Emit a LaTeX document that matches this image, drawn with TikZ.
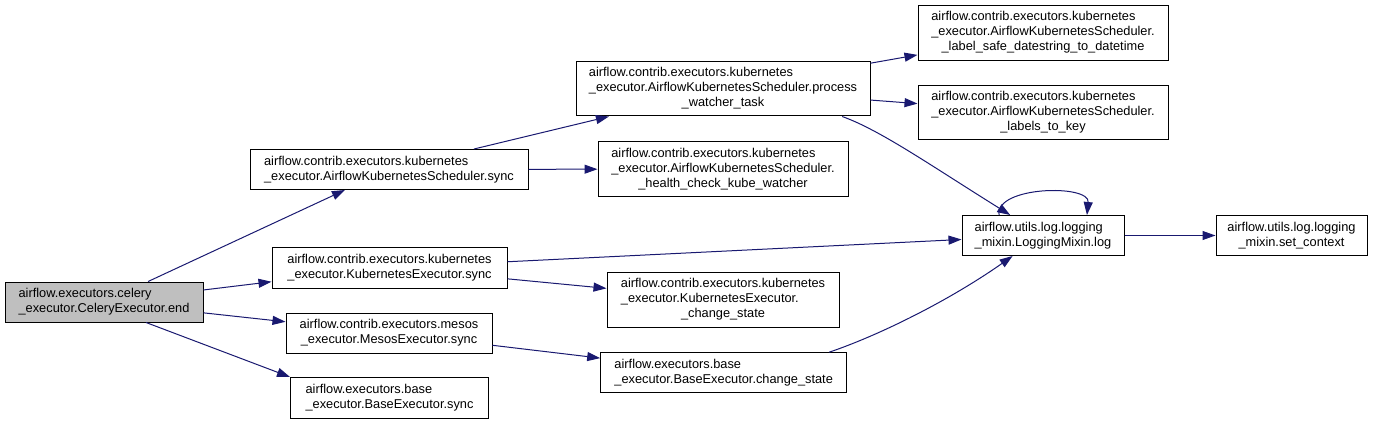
\documentclass[tikz,border=0pt]{standalone}
\usepackage{fontspec}
\setmainfont{Liberation Sans}
\usepackage{tikz}
\usetikzlibrary{arrows.meta}
\definecolor{edgeblue}{HTML}{191970}
\definecolor{rootgray}{HTML}{BFBFBF}
\newcommand{\fnlbl}[2]{\begin{tabular}{@{}l@{}}#1\\\multicolumn{1}{@{}c@{}}{#2}\end{tabular}}
\tikzstyle{funcnode} = [draw=black, rectangle, fill=white, line width=1pt, inner sep=0pt, font=\fontsize{12.8pt}{15pt}\selectfont]
\tikzstyle{rootnode} = [funcnode, fill=rootgray]
\tikzstyle{arrw} = [line width=1pt, color=edgeblue, -{Triangle[length=13pt, width=9pt]}]

\begin{document}
\begin{tikzpicture}[x=1pt, y=-1pt]
    \useasboundingbox (0,0) rectangle (1373,425);

    \node (root) [rootnode, minimum width=198, minimum height=40] at (104,302) {\fnlbl{airflow.executors.celery}{\_executor.CeleryExecutor.end}};
    \node (aks) [funcnode, minimum width=278, minimum height=40] at (389,169.5) {\fnlbl{airflow.contrib.executors.kubernetes}{\_executor.AirflowKubernetesScheduler.sync}};
    \node (kesync) [funcnode, minimum width=235, minimum height=41] at (389.5,267.5) {\fnlbl{airflow.contrib.executors.kubernetes}{\_executor.KubernetesExecutor.sync}};
    \node (mesos) [funcnode, minimum width=206, minimum height=40] at (389,333) {\fnlbl{airflow.contrib.executors.mesos}{\_executor.MesosExecutor.sync}};
    \node (besync) [funcnode, minimum width=198, minimum height=41] at (389.5,398) {\fnlbl{airflow.executors.base}{\_executor.BaseExecutor.sync}};
    \node (proc) [funcnode, minimum width=294, minimum height=54] at (723,89) {\fnlbl{airflow.contrib.executors.kubernetes\\\_executor.AirflowKubernetesScheduler.process}{\_watcher\_task}};
    \node (health) [funcnode, minimum width=250, minimum height=55] at (723,169) {\fnlbl{airflow.contrib.executors.kubernetes\\\_executor.AirflowKubernetesScheduler.}{\_health\_check\_kube\_watcher}};
    \node (kechg) [funcnode, minimum width=232, minimum height=55] at (723,299.5) {\fnlbl{airflow.contrib.executors.kubernetes\\\_executor.KubernetesExecutor.}{\_change\_state}};
    \node (bechg) [funcnode, minimum width=246, minimum height=40] at (723.7,372.7) {\fnlbl{airflow.executors.base}{\_executor.BaseExecutor.change\_state}};
    \node (lsafe) [funcnode, minimum width=250, minimum height=55] at (1043,33) {\fnlbl{airflow.contrib.executors.kubernetes\\\_executor.AirflowKubernetesScheduler.}{\_label\_safe\_datestring\_to\_datetime}};
    \node (l2key) [funcnode, minimum width=250, minimum height=54] at (1043,113) {\fnlbl{airflow.contrib.executors.kubernetes\\\_executor.AirflowKubernetesScheduler.}{\_labels\_to\_key}};
    \node (log) [funcnode, minimum width=162, minimum height=40] at (1043,235.5) {\fnlbl{airflow.utils.log.logging}{\_mixin.LoggingMixin.log}};
    \node (setctx) [funcnode, minimum width=151, minimum height=40] at (1291.5,235.5) {\fnlbl{airflow.utils.log.logging}{\_mixin.set\_context}};

    \draw [arrw] (root) -- (aks);
    \draw [arrw] (root) -- (kesync);
    \draw [arrw] (root) -- (mesos);
    \draw [arrw] (root.-26) -- (besync.north west);
    \draw [arrw] (aks) -- (proc);
    \draw [arrw] (aks) -- (health);
    \draw [arrw] (proc) -- (lsafe);
    \draw [arrw] (proc) -- (l2key);
    \draw [arrw] (kesync) -- (log);
    \draw [arrw] (kesync) -- (kechg);
    \draw [arrw] (mesos) -- (bechg);
    \draw [arrw] (log) -- (setctx);

    % curved calls into log
    \draw [arrw] (proc.-13) .. controls (880,130) and (930,165) .. (log.148);
    \draw [arrw] (bechg.11) .. controls (880,335) and (950,300) .. (log.214);
    \draw [arrw] (log.155) .. controls (995,186) and (1090,184) .. (log.25);
\end{tikzpicture}
\end{document}
